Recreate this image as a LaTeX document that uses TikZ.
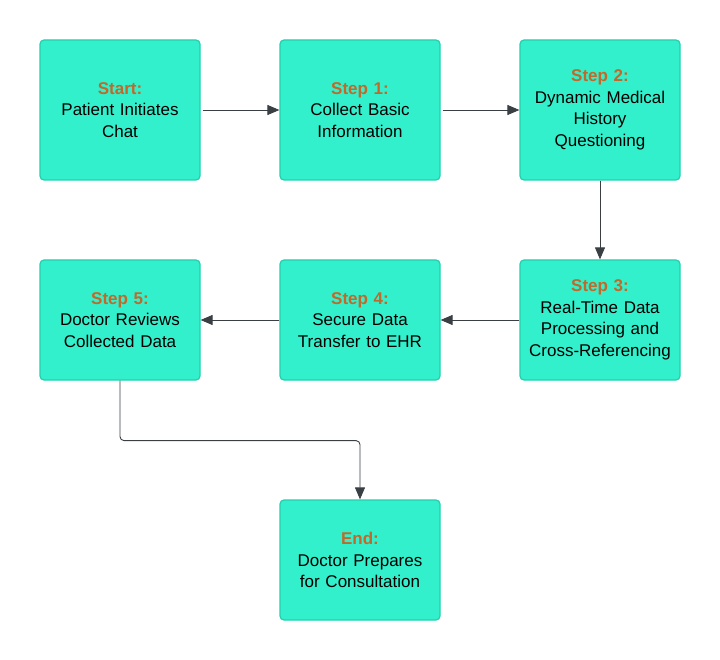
\documentclass[tikz,border=0pt]{standalone}
\usepackage{fontspec}
\setmainfont{Liberation Sans}
\usetikzlibrary{arrows.meta}
\definecolor{boxfill}{HTML}{33F0CC}
\definecolor{boxline}{HTML}{22CFAE}
\definecolor{steplabel}{HTML}{C0692A}
\definecolor{conn}{HTML}{3A3F44}
\tikzset{
  stepbox/.style={draw=boxline, line width=1.2pt, fill=boxfill, rounded corners=4pt,
    minimum width=160pt, minimum height=140pt, inner sep=0pt, align=center,
    text width=156pt, font=\fontsize{17pt}{21.5pt}\selectfont, text=black},
  shortbox/.style={stepbox, minimum height=120pt},
  conn/.style={draw=conn, line width=0.9pt, -{Triangle[length=12pt,width=10pt]}},
}
\newcommand{\lbl}[1]{{\bfseries\color{steplabel}#1}}
\begin{document}
\begin{tikzpicture}[x=1pt,y=-1pt]
\useasboundingbox (0,0) rectangle (720,660);
\node[stepbox] (start) at (120,110) {\lbl{Start:}\\Patient Initiates\\Chat};
\node[stepbox] (s1) at (360,110) {\lbl{Step 1:}\\Collect Basic\\Information};
\node[stepbox] (s2) at (600,110) {\lbl{Step 2:}\\Dynamic Medical\\History\\Questioning};
\node[shortbox] (s3) at (600,320) {\lbl{Step 3:}\\Real-Time Data\\Processing and\\Cross-Referencing};
\node[shortbox] (s4) at (360,320) {\lbl{Step 4:}\\Secure Data\\Transfer to EHR};
\node[shortbox] (s5) at (120,320) {\lbl{Step 5:}\\Doctor Reviews\\Collected Data};
\node[shortbox] (end) at (360,560) {\lbl{End:}\\Doctor Prepares\\for Consultation};
\draw[conn] (start.east) ++(2,0) -- (s1.west);
\draw[conn] (s1.east) ++(2,0) -- (s2.west);
\draw[conn] (s2.south) -- (s3.north);
\draw[conn] (s3.west) -- (s4.east);
\draw[conn] (s4.west) -- (s5.east);
\draw[conn, rounded corners=4pt] (s5.south) -- ++(0,60) -| (end.north);
\end{tikzpicture}
\end{document}
